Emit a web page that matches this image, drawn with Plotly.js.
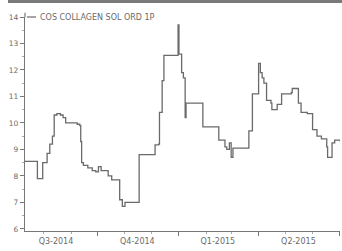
<!DOCTYPE html>
<html>
<head>
<meta charset="utf-8">
<script src="https://cdn.plot.ly/plotly-3.0.1.min.js"></script>
<style>html,body{margin:0;padding:0;background:#fff}#chart{width:342px;height:251px}</style>
</head>
<body>
<div id="chart"></div>
<script>
var seriesName = "COS COLLAGEN SOL ORD 1P";
var dates = [
 "2014-07-11","2014-07-22","2014-07-25","2014-07-29","2014-07-31","2014-08-05","2014-08-08","2014-08-11","2014-08-13","2014-08-16","2014-08-20","2014-08-23","2014-08-26","2014-09-02","2014-09-08","2014-09-11","2014-09-12","2014-09-13","2014-09-15","2014-09-20","2014-09-25","2014-09-29","2014-10-02","2014-10-05","2014-10-09","2014-10-13","2014-10-17","2014-10-24","2014-10-26","2014-10-29","2014-11-01","2014-11-15","2014-11-17","2014-12-02","2014-12-05","2014-12-09","2014-12-10","2014-12-13","2014-12-15","2014-12-30","2014-12-31","2015-01-01","2015-01-04","2015-01-06","2015-01-08","2015-01-09","2015-01-27","2015-01-28","2015-02-12","2015-02-15","2015-02-22","2015-02-24","2015-02-27","2015-03-01","2015-03-03","2015-03-19","2015-03-21","2015-03-25","2015-03-30","2015-04-01","2015-04-03","2015-04-05","2015-04-07","2015-04-10","2015-04-15","2015-04-16","2015-04-22","2015-04-27","2015-05-08","2015-05-09","2015-05-14","2015-05-16","2015-05-19","2015-05-26","2015-06-01","2015-06-06","2015-06-11","2015-06-17","2015-06-18","2015-06-23","2015-06-26","2015-07-02"
];
var prices = [
 8.55,8.55,7.9,7.9,8.5,8.85,9.2,9.5,10.3,10.35,10.3,10.2,10.0,10.0,9.95,9.9,9.3,8.5,8.4,8.3,8.2,8.15,8.35,8.2,8.2,8.0,7.85,7.85,7.1,6.85,7.0,7.0,8.8,8.8,9.17,9.2,10.4,11.6,12.55,12.55,13.7,12.6,11.9,11.7,10.2,10.75,10.75,9.85,9.85,9.35,9.1,9.0,9.25,8.7,9.05,9.05,9.7,11.1,11.1,12.25,11.9,11.7,11.5,10.85,10.75,10.5,10.7,11.1,11.15,11.3,11.3,10.75,10.4,10.35,9.75,9.5,9.4,9.1,8.7,9.25,9.35,9.3
];
var quarterStarts = ["2014-07-01","2014-10-01","2015-01-01","2015-04-01","2015-07-01"];
var quarterMids = ["2014-08-15","2014-11-15","2015-02-14","2015-05-16"];
var quarterLabels = ["Q3-2014","Q4-2014","Q1-2015","Q2-2015"];
var yTicks = [6,7,8,9,10,11,12,13,14];

var xRange = ["2014-07-11","2015-07-02"];
var axisColor = "#777";
var textColor = "#6a6a6a";
var fontFam = "DejaVu Sans, Verdana, sans-serif";

var trace = {
  x: dates, y: prices, type: "scatter", mode: "lines",
  line: {color: "#6a6a6a", width: 1.3, shape: "hv"},
  name: seriesName, showlegend: false, hoverinfo: "skip"
};
// same series on the overlay axis (invisible) so the quarter-boundary ticks are drawn
var traceTicks = {
  x: dates, y: prices, type: "scatter", mode: "lines", xaxis: "x2", yaxis: "y",
  line: {color: "rgba(0,0,0,0)", width: 0}, opacity: 0,
  showlegend: false, hoverinfo: "skip"
};

var layout = {
  width: 342, height: 251,
  margin: {l: 25, r: 2, t: 17, b: 20},
  paper_bgcolor: "#fff", plot_bgcolor: "#fff",
  showlegend: false,
  font: {family: fontFam, size: 8, color: textColor},
  xaxis: {
    type: "date", range: xRange,
    tickmode: "array", tickvals: quarterMids, ticktext: quarterLabels,
    ticks: "", showgrid: false, zeroline: false,
    showline: true, linecolor: axisColor, linewidth: 1.2,
    tickfont: {family: fontFam, size: 8, color: textColor},
    ticklabelstandoff: 2,
    minor: {dtick: "M1", tick0: "2014-07-01", ticks: "outside", ticklen: 2, tickcolor: "#aaa", showgrid: false},
    fixedrange: true
  },
  xaxis2: {
    type: "date", range: xRange, overlaying: "x", anchor: "y", side: "bottom",
    tickmode: "array", tickvals: quarterStarts, ticktext: quarterStarts.map(function(){return "";}),
    ticks: "outside", ticklen: 4, tickcolor: axisColor, tickwidth: 1,
    showticklabels: false, showgrid: false, zeroline: false, showline: false,
    fixedrange: true
  },
  yaxis: {
    range: [5.92, 14.0],
    tickmode: "array", tickvals: yTicks, ticktext: yTicks.map(String),
    ticks: "outside", ticklen: 4, tickcolor: axisColor,
    showgrid: false, zeroline: false,
    showline: true, linecolor: axisColor, linewidth: 1.2,
    minor: {dtick: 0.5, ticks: "outside", ticklen: 2, tickcolor: "#aaa", showgrid: false},
    tickfont: {family: fontFam, size: 7.5, color: textColor},
    fixedrange: true
  },
  shapes: [
    {type: "rect", xref: "paper", yref: "paper", x0: -0.054, x1: 1.01, y0: 1.065, y1: 1.085, fillcolor: "#7a7a7a", line: {width: 0}},
    {type: "line", xref: "paper", yref: "paper", x0: 0, x1: 0, y0: 1.0, y1: 1.02, line: {color: axisColor, width: 1.2}},
    {type: "line", xref: "paper", yref: "paper", x0: 0.006, x1: 0.035, y0: 1.0, y1: 1.0, line: {color: "#6a6a6a", width: 1.2}}
  ],
  annotations: [
    {xref: "paper", yref: "paper", x: 0.040, y: 1.0, xanchor: "left", yanchor: "middle",
     text: seriesName, showarrow: false, font: {family: fontFam, size: 8, color: textColor}}
  ]
};

Plotly.newPlot("chart", [trace, traceTicks], layout, {displayModeBar: false, staticPlot: true});
</script>
</body>
</html>
